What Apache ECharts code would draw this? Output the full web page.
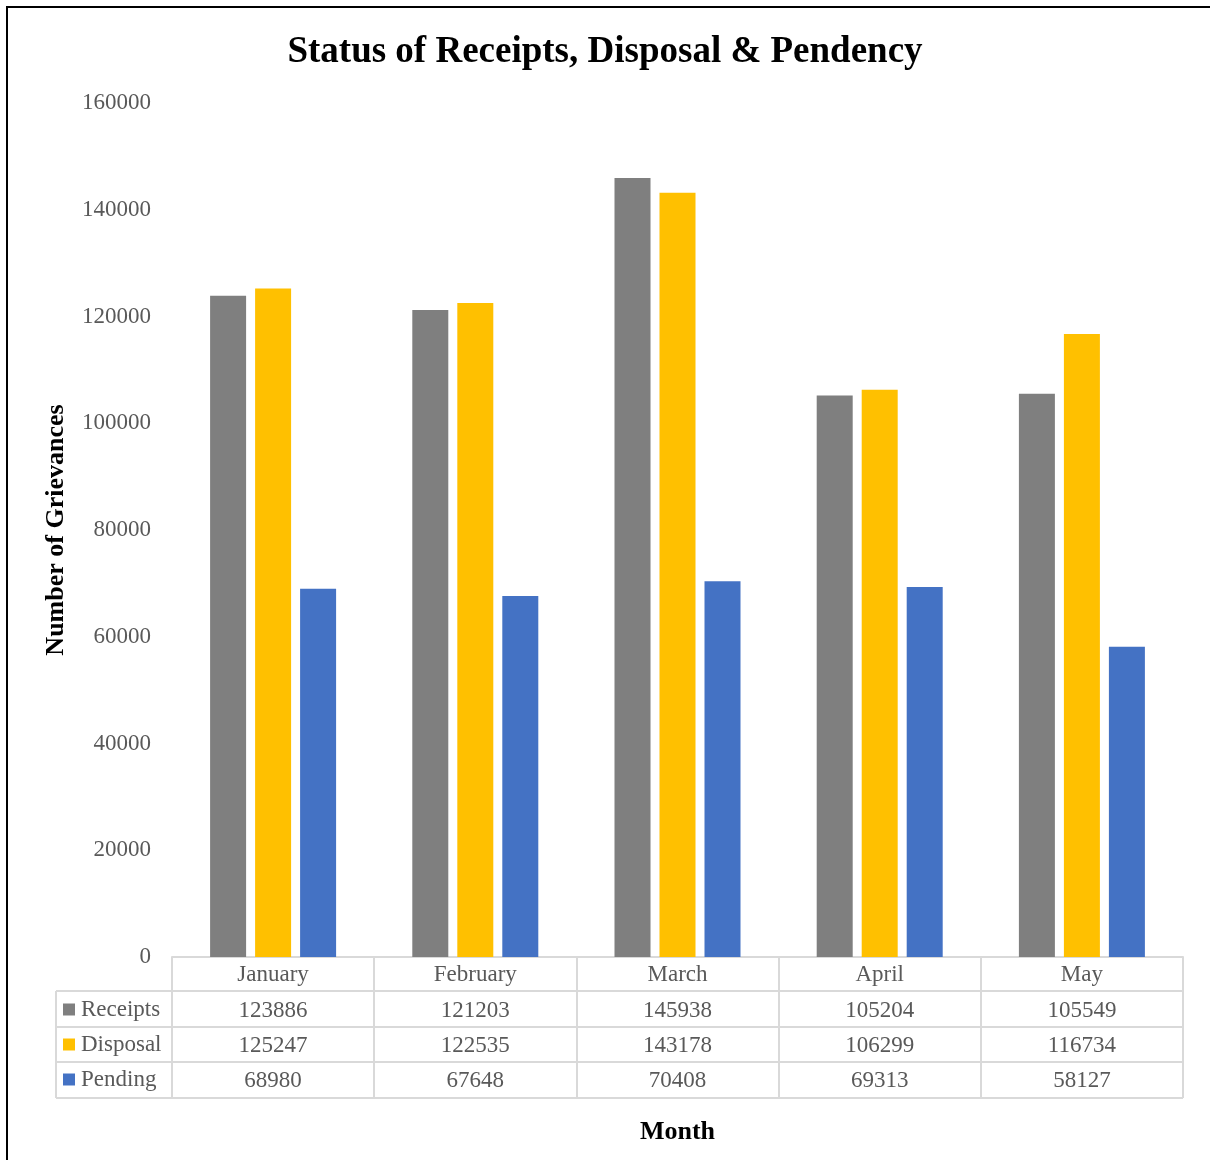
<!DOCTYPE html>
<html>
<head>
<meta charset="utf-8">
<script src="https://cdn.jsdelivr.net/npm/echarts@6/dist/echarts.min.js"></script>
<style>html,body{margin:0;padding:0;background:#fff}#c{width:1210px;height:1160px}</style>
</head>
<body>
<div id="c"></div>
<script>
const months = ['January', 'February', 'March', 'April', 'May'];
const receipts = [123886, 121203, 145938, 105204, 105549];
const disposal = [125247, 122535, 143178, 106299, 116734];
const pending = [68980, 67648, 70408, 69313, 58127];
const yTicks = [0, 20000, 40000, 60000, 80000, 100000, 120000, 140000, 160000];
const seriesNames = ['Receipts', 'Disposal', 'Pending'];
const colors = ['#7f7f7f', '#ffc000', '#4472c4'];

const FONT = '"Liberation Serif", "Times New Roman", serif';
const FS = 23;
const chart = echarts.init(document.getElementById('c'));
const GL = 172, GR = 27, GT = 103, GB = 203;
const axisY = 1160 - GB;
const rowOff = [35, 70, 105];
const tableLeft = 56, tableRight = 1210 - GR;
const lineColor = '#d9d9d9';

function rowAxis(values, off, extra) {
  return Object.assign({
    type: 'category', gridIndex: 0, position: 'bottom', offset: off,
    data: months,
    axisLine: { show: false }, axisTick: { show: false },
    axisLabel: { margin: 7, color: '#595959', fontFamily: FONT, fontSize: FS,
      formatter: (v, i) => String(values[i]) }
  }, extra || {});
}

const hLines = [axisY + 34, axisY + 70, axisY + 105, axisY + 141].map(y => ({
  type: 'line', shape: { x1: tableLeft, y1: y, x2: tableRight, y2: y },
  style: { stroke: lineColor, lineWidth: 2 }, silent: true
}));

chart.setOption({
  animation: false,
  title: {
    text: 'Status of Receipts, Disposal & Pendency', left: 'center', top: 29,
    textStyle: { fontFamily: FONT, fontSize: 37, fontWeight: 'bold', color: '#000' }
  },
  legend: {
    orient: 'vertical', left: 63, top: axisY + 41, padding: 0,
    itemWidth: 12, itemHeight: 12,
    itemGap: 12, icon: 'rect', data: seriesNames,
    textStyle: { fontFamily: FONT, fontSize: FS, color: '#595959', padding: [0, 0, 0, 1] },
    selectedMode: false
  },
  grid: { left: GL, right: GR, top: GT, bottom: GB },
  xAxis: [
    {
      type: 'category', data: months, position: 'bottom',
      axisLine: { show: true, lineStyle: { color: lineColor, width: 2 } },
      axisTick: { show: true, length: 141, lineStyle: { color: lineColor, width: 2 } },
      axisLabel: { margin: 6, color: '#595959', fontFamily: FONT, fontSize: FS }
    },
    rowAxis(receipts, rowOff[0]),
    rowAxis(disposal, rowOff[1]),
    rowAxis(pending, rowOff[2], {
      name: 'Month', nameLocation: 'middle', nameGap: 57,
      nameTextStyle: { fontFamily: FONT, fontSize: 26, fontWeight: 'bold', color: '#000' }
    })
  ],
  yAxis: {
    type: 'value', min: yTicks[0], max: yTicks[yTicks.length - 1],
    interval: yTicks[1] - yTicks[0],
    name: 'Number of Grievances', nameLocation: 'middle', nameGap: 103, nameRotate: 90,
    nameTextStyle: { fontFamily: FONT, fontSize: 26, fontWeight: 'bold', color: '#000' },
    axisLine: { show: false }, axisTick: { show: false }, splitLine: { show: false },
    axisLabel: { margin: 21, color: '#595959', fontFamily: FONT, fontSize: FS,
      formatter: v => String(v) }
  },
  series: [receipts, disposal, pending].map((d, i) => ({
    name: seriesNames[i], type: 'bar', data: d, xAxisIndex: 0, yAxisIndex: 0,
    barWidth: 36, barGap: '25%', itemStyle: { color: colors[i] }
  })),
  graphic: hLines.concat([
    { type: 'line', shape: { x1: tableLeft, y1: axisY + 34, x2: tableLeft, y2: axisY + 141 },
      style: { stroke: lineColor, lineWidth: 2 }, silent: true },
    { type: 'rect', shape: { x: 7, y: 7, width: 1240, height: 1200 },
      style: { fill: 'none', stroke: '#000', lineWidth: 2 }, silent: true }
  ])
});
</script>
</body>
</html>
